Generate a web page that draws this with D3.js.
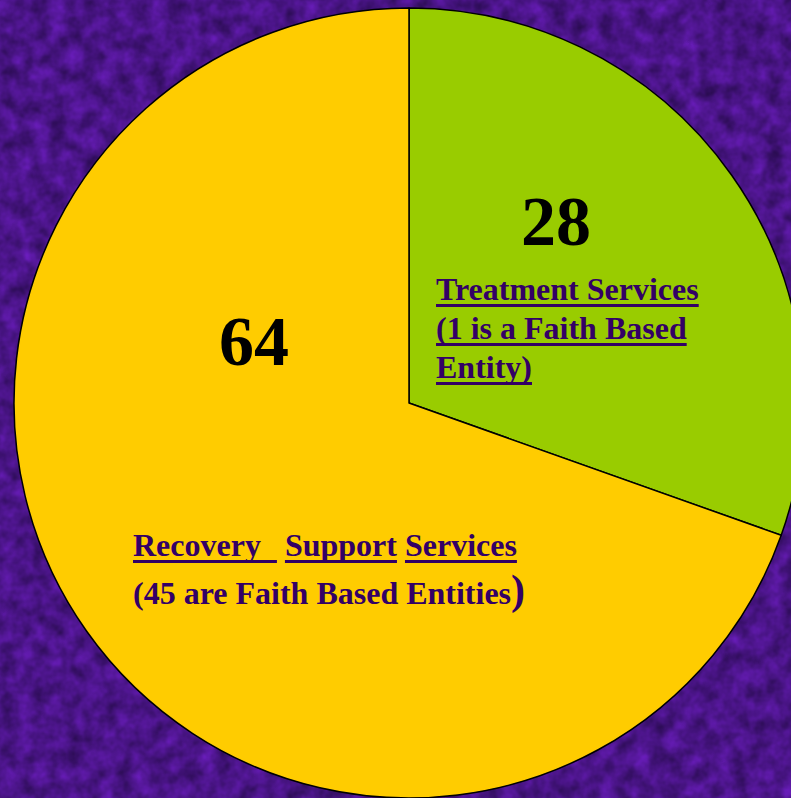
<!DOCTYPE html>
<html>
<head>
	<meta http-equiv="Content-Type" content="text/html;charset=UTF-8">
	<title>Services Pie</title>
	<style>
		html, body { margin: 0; padding: 0; background: #4a1488; overflow: hidden; }
		svg { display: block; }
		text { font-family: "Liberation Serif", "Times New Roman", serif; font-weight: bold; }
	</style>
</head>
<body>

	<div class="chart"></div>

	<script src="https://d3js.org/d3.v7.min.js"></script>
	<script type="text/javascript">

		var w = 791,
			h = 798,
			cx = 409, cy = 403,
			radius = 395;

		// data
		var categories = ["Treatment Services", "Recovery Support Services"];
		var values = [28, 64];
		var colors = ["#99cc00", "#ffcc00"];

		var SVG = d3.select("div.chart").append("svg")
					.attr("width", w)
					.attr("height", h);

		// purple texture background (one noise channel -> shades of purple)
		var defs = SVG.append("defs");
		var f = defs.append("filter").attr("id", "tex")
					.attr("color-interpolation-filters", "sRGB")
					.attr("x", 0).attr("y", 0).attr("width", "100%").attr("height", "100%");
		f.append("feTurbulence")
			.attr("type", "fractalNoise")
			.attr("baseFrequency", 0.06)
			.attr("numOctaves", 3)
			.attr("seed", 4);
		f.append("feColorMatrix")
			.attr("type", "matrix")
			.attr("values", "0.3 0 0 0 0.14  0.08 0 0 0 0.04  0.5 0 0 0 0.28  0 0 0 0 1");

		SVG.append("rect")
			.attr("width", w).attr("height", h)
			.attr("filter", "url(#tex)");

		var pie = d3.pie().sort(null).value(function(d){ return d; });
		var arc = d3.arc().innerRadius(0).outerRadius(radius);

		var g = SVG.append("g")
				.attr("transform", "translate(" + cx + "," + cy + ")");

		g.selectAll("path.slice")
			.data(pie(values))
			.enter().append("path")
			.attr("class", "slice")
			.attr("d", arc)
			.attr("fill", function(d, i){ return colors[i]; })
			.attr("stroke", "#000")
			.attr("stroke-width", 1.5)
			.attr("stroke-linejoin", "round");

		// big numbers
		var numPos = [[147, -158], [-155, -38]];
		g.selectAll("text.num")
			.data(values)
			.enter().append("text")
			.attr("class", "num")
			.attr("x", function(d, i){ return numPos[i][0]; })
			.attr("y", function(d, i){ return numPos[i][1]; })
			.attr("text-anchor", "middle")
			.attr("font-size", 70)
			.attr("fill", "#000")
			.text(function(d){ return d; });

		// labels: each line is a list of [text, underlined, size]
		var labelColor = "#330066";
		var treatLines = [
			[["Treatment Services", true]],
			[["(1 is a Faith Based", true]],
			[["Entity)", true]]
		];
		var recovLines = [
			[["Recovery\u00a0\u00a0", true], ["\u00a0", false], ["Support", true], ["\u00a0", false], ["Services", true]],
			[["(45 are Faith Based Entities", false], [")", false, 42]]
		];

		function drawLabel(lines, x0, y0, lh, size){
			lines.forEach(function(line, li){
				var x = x0, y = y0 + li * lh;
				line.forEach(function(seg){
					var t = SVG.append("text")
						.attr("x", x).attr("y", y)
						.attr("font-size", seg[2] || size)
						.attr("fill", labelColor)
						.style("white-space", "pre")
						.text(seg[0]);
					var len = t.node().getComputedTextLength();
					if (seg[1]) {
						SVG.append("rect")
							.attr("x", x).attr("y", y + 4)
							.attr("width", len).attr("height", 3)
							.attr("fill", labelColor);
					}
					x += len;
				});
			});
		}

		drawLabel(treatLines, 436, 300, 39, 32);
		drawLabel(recovLines, 133, 556, 48, 32);

	</script>
</body>
</html>
